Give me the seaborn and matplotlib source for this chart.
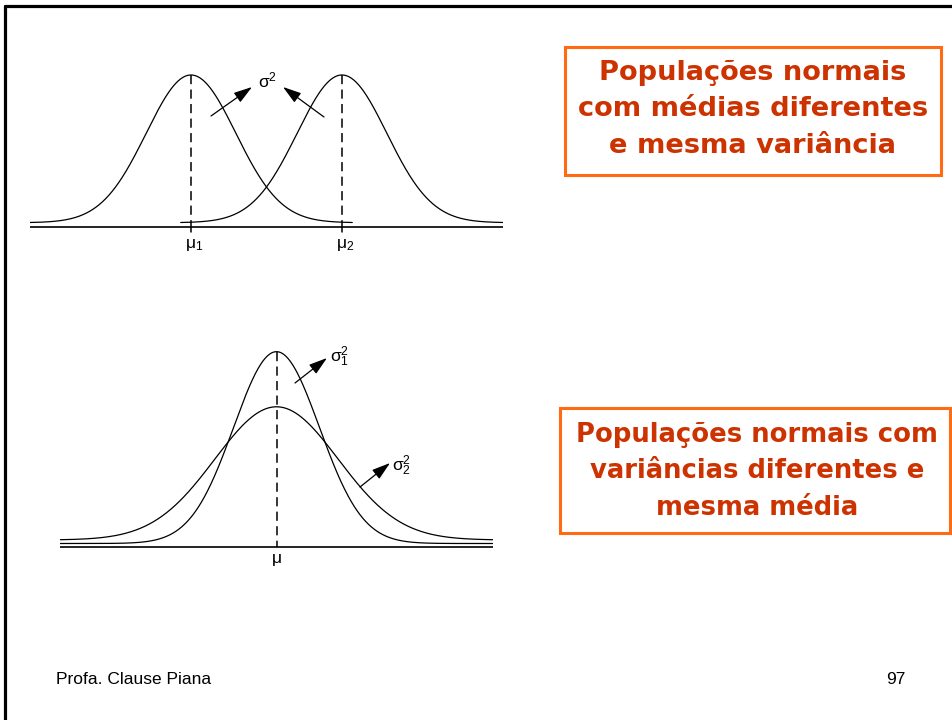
import numpy as np
import pandas as pd
import matplotlib
matplotlib.use("Agg")
import matplotlib.pyplot as plt
import seaborn as sns
from matplotlib.patches import Rectangle

# ---------------- data ----------------
top_means = [-1.685, 1.685]          # mu1, mu2 (sigma units)
top_sigma = 1.0
top_labels = [r"$\mu_1$", r"$\mu_2$"]
bot_mean = 0.0
bot_sigmas = [1.0, 1.44]             # sigma1, sigma2
bot_label = r"$\mu$"
box1_lines = ["Populações normais", "com médias diferentes", "e mesma variância"]
box2_lines = ["Populações normais com", "variâncias diferentes e", "mesma média"]
footer_left = "Profa. Clause Piana"
footer_right = "97"

# ---------------- setup ----------------
sns.set_theme(style="white")
plt.rcParams["font.family"] = ["Liberation Sans", "DejaVu Sans"]
plt.rcParams["mathtext.fontset"] = "custom"
plt.rcParams["mathtext.rm"] = "Liberation Sans"
plt.rcParams["mathtext.it"] = "Liberation Sans"
plt.rcParams["mathtext.default"] = "regular"
plt.rcParams["text.color"] = "black"

W, H = 953, 720
fig = plt.figure(figsize=(W / 100, H / 100), dpi=100)
fig.patch.set_facecolor("white")


def P(x, y):
    return (x / W, 1 - y / H)


def add_ax(x0, y0, x1, y1):
    return fig.add_axes([x0 / W, 1 - y1 / H, (x1 - x0) / W, (y1 - y0) / H])


def pdf(x, m, s):
    return np.exp(-0.5 * ((x - m) / s) ** 2) / (s * np.sqrt(2 * np.pi))


LW = 0.9
DASH = (0, (6, 3.5))

# ---------------- top panel ----------------
ax1 = add_ax(30, 60, 503, 260)
ax1.set_xlim(-5.28, 5.28)
ax1.set_ylim(-0.1007, 0.4394)
ax1.set_axis_off()
for m, lab in zip(top_means, top_labels):
    xs = np.linspace(m - 3.6 * top_sigma, m + 3.6 * top_sigma, 400)
    df = pd.DataFrame({"x": xs, "y": pdf(xs, m, top_sigma)})
    sns.lineplot(data=df, x="x", y="y", ax=ax1, color="black", lw=LW)
    peak = pdf(m, m, top_sigma)
    ax1.plot([m, m], [peak, -0.0108], color="black", lw=1.1, ls=DASH)
    ax1.plot([m, m], [-0.0108, -0.024], color="black", lw=1.1)
    ax1.text(m + 0.08, -0.06, lab, ha="center", va="center", fontsize=12.5)
ax1.axhline(-0.0108, color="black", lw=1.2)

# ---------------- bottom panel ----------------
ax2 = add_ax(60, 330, 493, 580)
ax2.set_xlim(-5.05, 5.05)
ax2.set_ylim(-0.0759, 0.444)
ax2.set_axis_off()
offsets = [0.0, 0.0073]
xs = np.linspace(-5.05, 5.05, 600)
for s, off in zip(bot_sigmas, offsets):
    df = pd.DataFrame({"x": xs, "y": pdf(xs, bot_mean, s) + off})
    sns.lineplot(data=df, x="x", y="y", ax=ax2, color="black", lw=LW)
ax2.axhline(-0.0073, color="black", lw=1.2)
peak = pdf(bot_mean, bot_mean, bot_sigmas[0])
ax2.plot([bot_mean, bot_mean], [peak, -0.0073], color="black", lw=1.1, ls=DASH)
ax2.text(bot_mean, -0.035, bot_label, ha="center", va="center", fontsize=12.5)

# ---------------- arrows & sigma labels ----------------
aprops = dict(arrowstyle="-|>,head_length=0.8,head_width=0.25", color="black",
              lw=0.9, shrinkA=0, shrinkB=0, mutation_scale=14)
for tail, head in [((211, 116), (252, 87)), ((324, 117), (283, 87)),
                   ((295, 383), (327, 358)), ((360, 487), (390, 463))]:
    ax1.annotate("", xy=P(*head), xytext=P(*tail), xycoords="figure fraction",
                 textcoords="figure fraction", arrowprops=aprops)
fig.text(*P(268, 80), r"$\sigma^2$", ha="center", va="center", fontsize=12.5)
fig.text(*P(340, 357), r"$\sigma_1^2$", ha="center", va="center", fontsize=12.5)
fig.text(*P(402, 466), r"$\sigma_2^2$", ha="center", va="center", fontsize=12.5)

# ---------------- text boxes ----------------
ORANGE = "#FF6A13"
TXT = "#CC3300"
for (x0, y0, x1, y1), lines, ys, cx, fs in [
    ((565, 47, 941, 175), box1_lines, [73, 109, 146], 753, 19.6),
    ((560, 408, 950, 533), box2_lines, [435, 471, 508], 757, 18.6),
]:
    fig.patches.append(Rectangle(P(x0, y1), (x1 - x0) / W, (y1 - y0) / H,
                                 transform=fig.transFigure, fill=False,
                                 edgecolor=ORANGE, lw=2.2))
    for t, y in zip(lines, ys):
        fig.text(*P(cx, y), t, ha="center", va="center", fontsize=fs,
                 fontweight="bold", color=TXT, family=["DejaVu Sans"])

# ---------------- footer & border ----------------
fig.text(*P(56, 679), footer_left, ha="left", va="center", fontsize=12.5)
fig.text(*P(906, 679), footer_right, ha="right", va="center", fontsize=12.5)
fig.lines.append(plt.Line2D([5.5 / W, 5.5 / W], [0, 1 - 5.5 / H],
                            transform=fig.transFigure, color="black", lw=2.3))
fig.lines.append(plt.Line2D([5.5 / W, 1], [1 - 6 / H, 1 - 6 / H],
                            transform=fig.transFigure, color="black", lw=2.3))

fig.savefig("out.png", dpi=100, facecolor="white")
